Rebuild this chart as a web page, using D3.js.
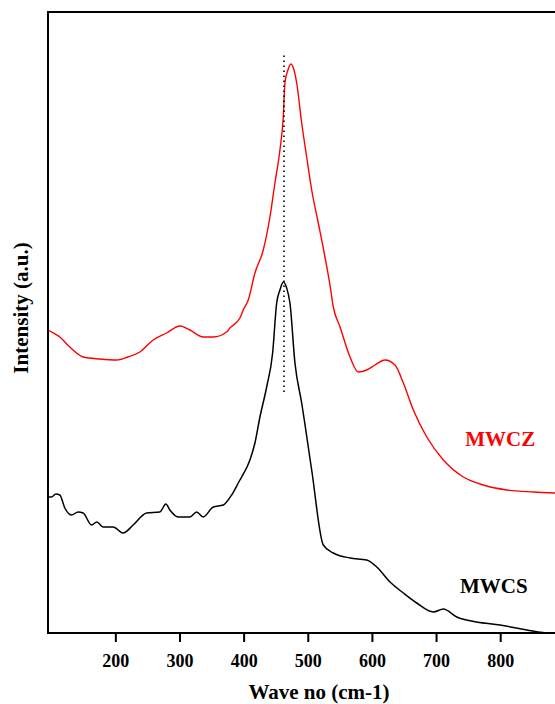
<!DOCTYPE html>
<html>
<head>
<meta charset="utf-8">
<script src="https://cdn.jsdelivr.net/npm/d3@7"></script>
<style>
  html, body { margin: 0; padding: 0; background: #fff; overflow: hidden; }
  svg { display: block; }
  text { font-family: "Liberation Serif", "Times New Roman", serif; font-weight: bold; }
</style>
</head>
<body>
<script>
// Raman spectra (wave number cm-1, intensity a.u.)
const mwczWave = [95.2, 97.8, 113.4, 129, 149.8, 175.8, 201.9, 219.5, 238.2, 259, 279.9, 300.6, 316.2, 337, 352.6, 373.5, 378.6, 394.2, 399.4, 407.2, 417.6, 430.6, 441, 448.8, 456.6, 461.8, 464.4, 469.1, 473.8, 478.5, 482.7, 490.5, 498.3, 506.1, 516.4, 526.8, 534.6, 539.8, 550.3, 565.9, 578.8, 591.9, 604.8, 620.4, 636, 649, 664.6, 685.5, 711.4, 742.6, 773.8, 810.3, 851.8, 885.6];
const mwczIntensity = [303, 302, 296, 286, 276, 274, 273, 276, 281, 293, 300, 307, 303, 296, 296, 301, 305, 315, 323, 333, 360, 383, 416, 450, 483, 516, 550, 563, 569, 563, 550, 510, 476, 443, 410, 376, 348, 326, 306, 276, 261, 263, 268, 273, 268, 250, 223, 196, 173, 156, 148, 143, 141, 140];

const mwcsWave = [95.2, 100.5, 107.2, 113.4, 121.2, 131.7, 142, 149.8, 162.9, 171.1, 181, 196.6, 212.2, 227.8, 248.7, 269.4, 278.8, 285, 298, 316.2, 326.7, 337, 352.6, 368.2, 381.3, 394.2, 396.9, 409.8, 417.6, 425.4, 435.9, 445.2, 451.5, 456.6, 461.8, 467.1, 472.2, 480, 490.5, 506.1, 524.2, 539.8, 565.9, 591.9, 607.5, 628.2, 649, 669.9, 695.8, 711.4, 732.3, 763.5, 799.8, 841.5, 877.8, 885.6];
const mwcsIntensity = [136, 136, 139, 138, 125, 118, 121, 120, 108, 111, 106, 106, 100, 108, 120, 121, 129, 123, 116, 116, 121, 116, 126, 128, 138, 153, 156, 173, 190, 216, 246, 280, 330, 343, 351, 345, 330, 270, 230, 163, 88, 80, 75, 73, 66, 51, 40, 30, 21, 24, 16, 11, 8, 3, 0, 0];

const xTicks = [200, 300, 400, 500, 600, 700, 800];
const peakMarkerWave = [462.9, 462.9];
const peakMarkerIntensity = [241, 581];

const seriesNames = ["MWCZ", "MWCS"];
const seriesColors = ["#ff0000", "#000000"];
const labelPos = [{ wave: 800, intensity: 187 }, { wave: 790, intensity: 40 }];

const W = 555, H = 704;
const margin = { left: 48, top: 12, bottom: 633, right: 590 };

const x = d3.scaleLinear().domain([95, 940]).range([margin.left, margin.right]);
const y = d3.scaleLinear().domain([0, 622]).range([margin.bottom, 11]);

const svg = d3.select("body").append("svg").attr("width", W).attr("height", H);

svg.append("defs").append("clipPath").attr("id", "clip")
  .append("rect").attr("x", margin.left).attr("y", 0).attr("width", margin.right - margin.left).attr("height", margin.bottom);

const line = d3.line().x(d => x(d[0])).y(d => y(d[1])).curve(d3.curveMonotoneX);
const straight = d3.line().x(d => x(d[0])).y(d => y(d[1]));

const mwcz = mwczWave.map((w, i) => [w, mwczIntensity[i]]);
const mwcs = mwcsWave.map((w, i) => [w, mwcsIntensity[i]]);

const g = svg.append("g").attr("clip-path", "url(#clip)");
g.append("path").datum(mwcz).attr("d", line)
  .attr("fill", "none").attr("stroke", seriesColors[0]).attr("stroke-width", 1.4).attr("stroke-linejoin", "round");
g.append("path").datum(mwcs).attr("d", line)
  .attr("fill", "none").attr("stroke", seriesColors[1]).attr("stroke-width", 1.5).attr("stroke-linejoin", "round");

// dotted peak marker
g.append("path").datum(peakMarkerWave.map((w, i) => [w, peakMarkerIntensity[i]])).attr("d", straight)
  .attr("fill", "none").attr("stroke", "#000").attr("stroke-width", 1.6).attr("stroke-dasharray", "1.5,3.5");

// bottom axis
const xAxis = d3.axisBottom(x).tickValues(xTicks).tickSize(9).tickPadding(12).tickFormat(d3.format("d"));
const ax = svg.append("g").attr("transform", `translate(0,${margin.bottom})`).call(xAxis);
ax.select(".domain").remove();
ax.selectAll(".tick line").attr("stroke", "#000").attr("stroke-width", 2);
ax.selectAll(".tick text").attr("font-size", 18).attr("fill", "#000")
  .attr("font-family", "'Liberation Serif', 'Times New Roman', serif").attr("font-weight", "bold");

// frame lines: left, bottom, top
svg.append("line").attr("x1", margin.left).attr("x2", margin.left).attr("y1", margin.top - 1).attr("y2", margin.bottom + 1)
  .attr("stroke", "#000").attr("stroke-width", 2);
svg.append("line").attr("x1", margin.left - 1).attr("x2", margin.right).attr("y1", margin.bottom).attr("y2", margin.bottom)
  .attr("stroke", "#000").attr("stroke-width", 2);
svg.append("line").attr("x1", margin.left - 1).attr("x2", margin.right).attr("y1", margin.top).attr("y2", margin.top)
  .attr("stroke", "#000").attr("stroke-width", 2);

// axis titles
svg.append("text").attr("x", (margin.left + margin.right) / 2).attr("y", 699)
  .attr("text-anchor", "middle").attr("font-size", 21).attr("fill", "#000").text("Wave no (cm-1)");
svg.append("text").attr("transform", "translate(28,308) rotate(-90)")
  .attr("text-anchor", "middle").attr("font-size", 21).attr("fill", "#000").text("Intensity (a.u.)");

// series labels
seriesNames.forEach((n, i) => {
  svg.append("text").attr("x", x(labelPos[i].wave)).attr("y", y(labelPos[i].intensity))
    .attr("text-anchor", "middle").attr("font-size", 21).attr("fill", seriesColors[i]).text(n);
});
</script>
</body>
</html>
